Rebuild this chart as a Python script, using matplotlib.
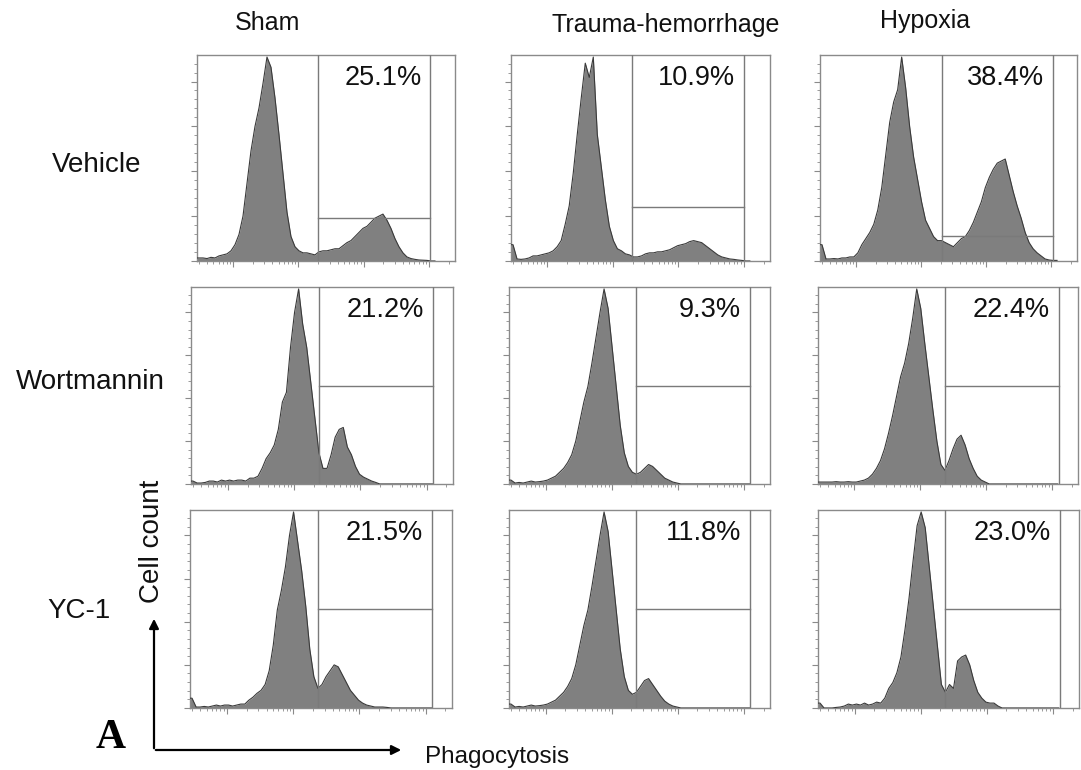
import numpy as np
import matplotlib
matplotlib.use("Agg")
import matplotlib.pyplot as plt

plt.rcParams['font.family'] = ['Liberation Sans', 'DejaVu Sans']

# ---------------- data ----------------
columns = ["Sham", "Trauma-hemorrhage", "Hypoxia"]
rows = ["Vehicle", "Wortmannin", "YC-1"]
percent_labels = [["25.1%", "10.9%", "38.4%"],
                  ["21.2%", "9.3%", "22.4%"],
                  ["21.5%", "11.8%", "23.0%"]]

# relative cell counts per fluorescence bin (60 bins, log-scale channel)
vehicle_sham = [1.5, 1.5, 1.2, 1.8, 1.5, 2.5, 3, 3.5, 5, 8, 13, 22, 38, 54, 66, 75, 87, 100, 95, 80,
                62, 43, 24, 12, 7, 5, 4, 4, 3.5, 3, 4.5, 5, 5, 5.5, 6, 6, 7.5, 9, 10, 12,
                14, 16, 17, 19, 21, 22, 23, 20, 16, 11, 7, 4, 2, 1.2, 0.8, 0.5, 0.4, 0.3, 0, 0]
vehicle_th = [8, 1, 0.8, 1, 1.5, 2.5, 2.5, 3, 3.5, 4, 5, 7, 10, 18, 27, 43, 62, 80, 97, 90,
              100, 62, 46, 30, 17, 10, 6, 5, 3.5, 3, 2, 2, 2.5, 3.5, 4, 4, 4.5, 4.5, 5, 5.5,
              6.5, 7.5, 8, 8.5, 9.5, 10, 9.5, 9, 7.5, 6, 4.5, 3, 2, 1.5, 1, 0.8, 0.5, 0.3, 0, 0]
vehicle_hyp = [8, 1, 1, 1.2, 1, 1.5, 1.5, 2, 2, 4, 8, 11, 14, 18, 25, 36, 52, 68, 78, 84,
               100, 85, 66, 51, 40, 29, 20, 16, 12, 10, 10, 9, 8, 7, 9, 11, 12, 15, 19, 24,
               29, 36, 41, 45, 48, 49, 50, 42, 34, 27, 21, 14, 9, 6, 4, 2.5, 1, 0.5, 0.3, 0.3]
wort_sham = [1.5, 0.5, 0.5, 0.8, 1.5, 1.5, 1, 2, 1.5, 2, 1.5, 2, 2, 1.5, 3, 3, 4, 8, 13, 16,
             20, 28, 42, 47, 70, 88, 100, 82, 70, 52, 34, 16, 8, 8, 15, 24, 28, 29, 19, 15,
             9, 5, 3.5, 2.5, 1.5, 0.8, 0, 0, 0, 0, 0, 0, 0, 0, 0, 0, 0, 0, 0, 0]
wort_th = [2, 0.5, 0.8, 0.5, 1, 1.5, 1, 1.2, 1.5, 2, 3, 4, 6, 8, 11, 15, 22, 32, 42, 50,
           62, 75, 88, 100, 90, 70, 50, 30, 16, 9, 6, 5, 6, 8, 10, 9, 7, 5, 3, 2,
           1, 0.5, 0, 0, 0, 0, 0, 0, 0, 0, 0, 0, 0, 0, 0, 0, 0, 0, 0, 0]
wort_hyp = [1, 1, 1, 1, 1.2, 1, 1, 1.2, 1, 1, 1.5, 2, 3, 5, 8, 12, 18, 26, 35, 45,
            55, 62, 72, 85, 100, 90, 72, 55, 38, 22, 10, 7, 12, 18, 23, 25, 20, 13, 8, 4,
            2, 1, 0, 0, 0, 0, 0, 0, 0, 0, 0, 0, 0, 0, 0, 0, 0, 0, 0, 0]
yc1_sham = [5, 0.5, 0.5, 0.8, 0.5, 1, 1.5, 1, 1.5, 1.5, 1, 1.5, 2, 2, 4, 5.5, 7.5, 9, 12, 19,
            32, 50, 60, 72, 88, 100, 85, 70, 52, 30, 16, 10, 12, 16, 19, 22, 21, 17, 13, 9,
            6.5, 4, 2.5, 1.5, 1, 0.5, 0.5, 0.5, 0.3, 0, 0, 0, 0, 0, 0, 0, 0, 0, 0, 0]
yc1_th = [2, 0.5, 0.8, 0.5, 1, 1.5, 1, 1.2, 1.5, 2, 3, 4, 6, 8, 11, 15, 22, 32, 42, 50,
          62, 75, 88, 100, 90, 70, 50, 30, 16, 9, 7, 8, 11, 14, 15, 12, 9, 6, 3.5, 2,
          1, 0.5, 0, 0, 0, 0, 0, 0, 0, 0, 0, 0, 0, 0, 0, 0, 0, 0, 0, 0]
yc1_hyp = [2.5, 0, 0, 0, 0.3, 0.5, 1, 2, 1.5, 2, 1.5, 2.5, 1.5, 2, 3, 2.5, 5, 10, 13, 18,
           26, 40, 56, 75, 93, 100, 92, 72, 52, 32, 12, 8, 12, 10, 24, 26, 27, 22, 14, 8,
           5, 3, 2.5, 2.5, 1, 0, 0, 0, 0, 0, 0, 0, 0, 0, 0, 0, 0, 0, 0, 0]

histograms = [[vehicle_sham, vehicle_th, vehicle_hyp],
              [wort_sham, wort_th, wort_hyp],
              [yc1_sham, yc1_th, yc1_hyp]]

# gate geometry (axes fractions): left edge, right edge, marker height
gate_left = [[0.468, 0.467, 0.475], [0.487, 0.487, 0.487], [0.487, 0.487, 0.488]]
gate_right = [[0.905, 0.90, 0.907], [0.925, 0.925, 0.925], [0.925, 0.925, 0.926]]
gate_height = [[0.21, 0.26, 0.12], [0.50, 0.50, 0.50], [0.50, 0.50, 0.50]]

# ---------------- layout ----------------
W, H = 1081, 770
fig = plt.figure(figsize=(W / 100, H / 100), dpi=100)

row_y = [(55, 261), (287, 484), (510, 708)]
col_x = [[(197, 455), (511, 770), (820, 1077)],
         [(191, 453), (509, 770), (818, 1078)],
         [(190, 452), (509, 770), (818, 1079)]]

spine_c = '#8a8a8a'
nb = 60
bw = 0.0155
centers = (np.arange(nb) + 0.5) * bw

# log-decade tick positions along x (axes fraction)
dec0, dstep = 0.14, 0.253
major_x = [dec0 + dstep * k for k in range(-1, 4)]
major_x = [m for m in major_x if 0 <= m <= 1]
minor_x = []
for k in range(-1, 4):
    for m in range(2, 10):
        p = dec0 + dstep * (k + np.log10(m))
        if 0 <= p <= 1:
            minor_x.append(p)

for r in range(3):
    for c in range(3):
        x0, x1 = col_x[r][c]
        y0, y1 = row_y[r]
        ax = fig.add_axes([x0 / W, 1 - y1 / H, (x1 - x0) / W, (y1 - y0) / H])
        vals = np.array(histograms[r][c], dtype=float)
        xs = np.concatenate([[0.002], centers])
        ys = np.concatenate([[vals[0]], vals])
        ax.fill_between(xs, 0, ys, color='#808080', lw=0, zorder=2)
        ax.plot(xs, ys, color='#3a3a3a', lw=0.8, zorder=3)
        ax.set_xlim(0, 1)
        ax.set_ylim(0, 101)
        for s in ax.spines.values():
            s.set_color(spine_c)
            s.set_linewidth(1.0)
        gl, gr, gh = gate_left[r][c], gate_right[r][c], gate_height[r][c] * 101
        ax.axvline(gl, color='#7a7a7a', lw=1.0, zorder=4)
        ax.axvline(gr, color='#7a7a7a', lw=1.0, zorder=4)
        ax.plot([gl, gr], [gh, gh], color='#7a7a7a', lw=1.0, zorder=4)
        ax.text(gr - 0.035, 0.95, percent_labels[r][c], transform=ax.transAxes,
                ha='right', va='top', fontsize=19.5, color='#111111')
        ax.set_xticks(major_x)
        ax.set_xticks(minor_x, minor=True)
        ax.set_yticks(np.arange(0, 101, 22))
        ax.set_yticks(np.arange(0, 101, 4.4), minor=True)
        ax.tick_params(axis='both', which='major', direction='out', length=4,
                       width=0.8, color=spine_c, labelbottom=False, labelleft=False)
        ax.tick_params(axis='both', which='minor', direction='out', length=2,
                       width=0.6, color=spine_c)

# column headers
for name, (cx, cy) in zip(columns, [(268, 23), (666, 25), (925, 21)]):
    fig.text(cx / W, 1 - cy / H, name, ha='center', va='center', fontsize=18, color='#111111')
# row labels
for name, (cx, cy) in zip(rows, [(97, 165), (90, 382), (79, 611)]):
    fig.text(cx / W, 1 - cy / H, name, ha='center', va='center', fontsize=20, color='#111111')

# axis arrows and labels
fig.text(152 / W, 1 - 541 / H, "Cell count", rotation=90, ha='center', va='center',
         fontsize=20, color='#111111')
fig.text(497 / W, 1 - 757 / H, "Phagocytosis", ha='center', va='center',
         fontsize=17.5, color='#111111')
fig.text(111 / W, 1 - 738 / H, "A", ha='center', va='center', fontsize=30,
         fontweight='bold', family=['Liberation Serif', 'DejaVu Serif'], color='#000000')
fig.add_artist(matplotlib.patches.FancyArrowPatch(
    (154 / W, 1 - 751 / H), (154 / W, 1 - 616 / H), transform=fig.transFigure,
    arrowstyle='-|>', mutation_scale=14, lw=1.6, color='#000000'))
fig.add_artist(matplotlib.patches.FancyArrowPatch(
    (153 / W, 1 - 750 / H), (404 / W, 1 - 750 / H), transform=fig.transFigure,
    arrowstyle='-|>', mutation_scale=14, lw=1.6, color='#000000'))

fig.savefig('out.png', dpi=100, facecolor='white')
